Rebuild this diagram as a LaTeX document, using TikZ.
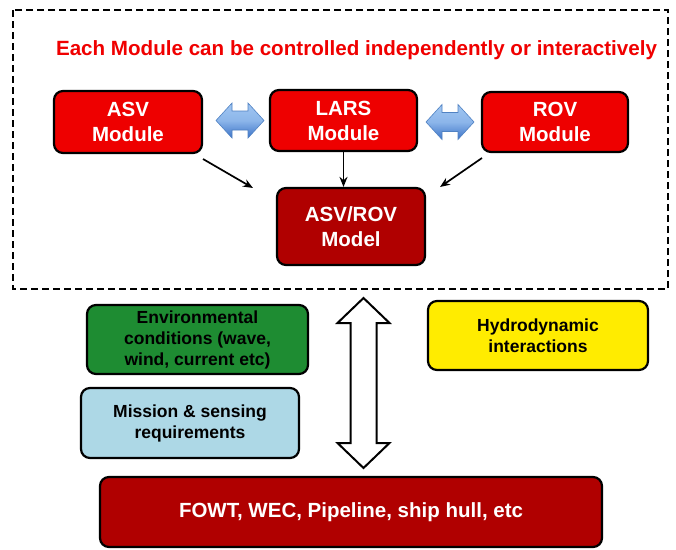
\documentclass[tikz,border=0pt]{standalone}
\usepackage{fontspec}
\setmainfont{Liberation Sans}
\usetikzlibrary{arrows.meta,calc}
\definecolor{brightred}{RGB}{238,0,0}
\definecolor{darkred}{RGB}{176,0,0}
\definecolor{envgreen}{RGB}{30,140,50}
\definecolor{hydroyellow}{RGB}{255,236,0}
\definecolor{missionblue}{RGB}{173,216,230}
\definecolor{titlered}{RGB}{240,0,0}
\definecolor{arrowlight}{RGB}{160,198,242}
\definecolor{arrowdark}{RGB}{60,115,200}
\definecolor{arrowedge}{RGB}{80,130,195}
\begin{document}
\begin{tikzpicture}[x=1pt,y=-1pt,
  box/.style={draw=black, line width=2.2pt, rounded corners=9pt, align=center, inner sep=0pt},
  modbox/.style={box, fill=brightred, text=white, font=\fontsize{20.5}{25}\selectfont\bfseries},
  infobox/.style={box, text=black, font=\fontsize{17.5}{21}\selectfont\bfseries},
  conn/.style={line width=1.7pt, -{Stealth[length=10pt,width=8pt]}},
  bluearrow/.style={draw=arrowedge, line width=0.6pt, top color=arrowlight, bottom color=arrowdark, middle color=arrowlight!80!arrowdark},
  hollow/.style={draw=black, line width=2pt, fill=white, line join=miter}
]
\fill[white] (0,0) rectangle (676,549);
\useasboundingbox (0,0) rectangle (676,549);
\clip (0,0) rectangle (676,549);

% dashed frame
\draw[line width=1.8pt, dash pattern=on 7pt off 4pt] (13,10) rectangle (668,289);

% title
\node[text=titlered, font=\fontsize{20.6}{24}\selectfont\bfseries] (title) at (356.5,50) {Each Module can be controlled independently or interactively};

% module boxes
\node[modbox, minimum width=148pt, minimum height=62pt] (asv) at (128,122) {ASV\\Module};
\node[modbox, minimum width=147pt, minimum height=61pt] (lars) at (343.5,120.5) {LARS\\Module};
\node[modbox, minimum width=146pt, minimum height=60pt] (rov) at (555,122) {ROV\\Module};
\node[modbox, fill=darkred, minimum width=148pt, minimum height=77pt] (model) at (351,226.5) {ASV/ROV\\Model};

% blue double arrows
\coordinate (b1) at (240,120.5);
\coordinate (b2) at (450,122);
\foreach \c in {b1,b2}{
  \path[bluearrow] ($(\c)+(-24,0)$) -- ++(16,-17.5) -- ++(0,8) -- ++(16,0) -- ++(0,-8) -- ++(16,17.5) -- ++(-16,17.5) -- ++(0,-8) -- ++(-16,0) -- ++(0,8) -- cycle;
}

% connectors into the model
\coordinate (a1s) at (203,159);
\coordinate (a1e) at (253,188);
\coordinate (a3s) at (482,158);
\coordinate (a3e) at (440,187);
\draw[conn] (a1s) -- (a1e);
\draw[conn] (lars.south) -- (lars.south |- model.north);
\draw[conn] (a3s) -- (a3e);

% lower boxes
\node[infobox, fill=envgreen, minimum width=221pt, minimum height=69pt] (env) at (197.5,339.5) {Environmental\\conditions (wave,\\wind, current etc)};
\node[infobox, fill=hydroyellow, minimum width=220pt, minimum height=69pt] (hydro) at (538,335.5) {Hydrodynamic\\interactions};
\node[infobox, fill=missionblue, minimum width=218pt, minimum height=70pt] (mission) at (190,423) {Mission \& sensing\\requirements};
\node[box, fill=darkred, text=white, font=\fontsize{20.5}{25}\selectfont\bfseries, minimum width=502pt, minimum height=70pt] (fowt) at (351,512) {FOWT, WEC, Pipeline, ship hull, etc};

% hollow vertical double arrow
\coordinate (ht) at (363.5,298);
\coordinate (hb) at (363.5,468);
\draw[hollow] (ht) -- ++(26,25) -- ++(-13,0) -- ($(hb)+(13,-25)$) -- ++(13,0) -- (hb) -- ++(-26,-25) -- ++(13,0) -- ($(ht)+(-13,25)$) -- ++(-13,0) -- cycle;
\end{tikzpicture}
\end{document}
